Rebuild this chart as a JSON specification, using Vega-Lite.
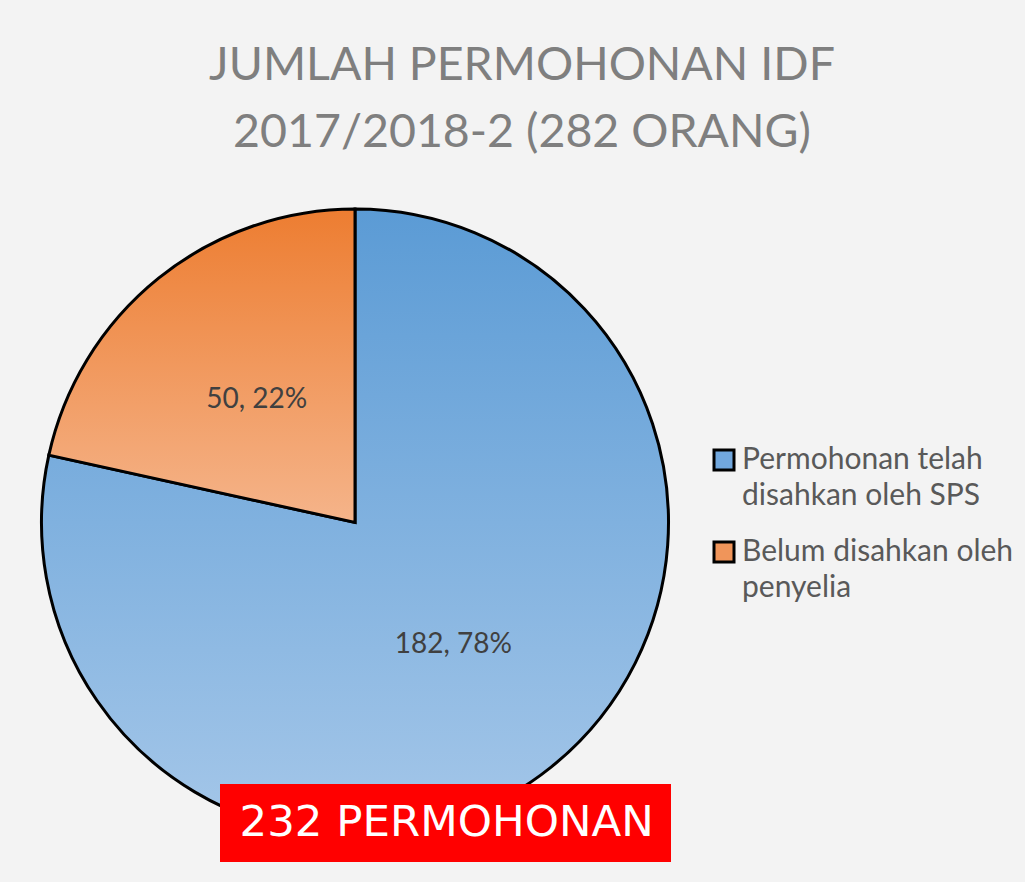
{
  "$schema": "https://vega.github.io/schema/vega-lite/v6.json",
  "width": 628,
  "height": 627,
  "autosize": {"type": "none"},
  "padding": {"left": 41, "top": 209, "right": 356, "bottom": 46},
  "background": "#F3F3F3",
  "title": {
    "text": ["JUMLAH PERMOHONAN IDF", "2017/2018-2 (282 ORANG)"],
    "anchor": "middle",
    "frame": "group",
    "dx": 167,
    "offset": 47,
    "font": "Lato",
    "fontSize": 46.5,
    "fontWeight": "normal",
    "color": "#7F7F7F",
    "lineHeight": 67
  },
  "data": {
    "values": [
      {"category": "Permohonan telah disahkan oleh SPS", "value": 182, "label": "182, 78%", "note": "232 PERMOHONAN"},
      {"category": "Belum disahkan oleh penyelia", "value": 50, "label": "50, 22%", "note": "232 PERMOHONAN"}
    ]
  },
  "layer": [
    {
      "mark": {"type": "arc", "stroke": "#000000", "strokeWidth": 3},
      "encoding": {
        "theta": {"field": "value", "type": "quantitative", "stack": true},
        "detail": {"field": "category"},
        "order": {"field": "category", "sort": "descending"},
        "fill": {
          "condition": {
            "test": "datum.category === 'Belum disahkan oleh penyelia'",
            "value": {
              "gradient": "linear", "x1": 0, "y1": 0, "x2": 0, "y2": 1,
              "stops": [{"offset": 0, "color": "#ED7D31"}, {"offset": 1, "color": "#F5B48A"}]
            }
          },
          "value": {
            "gradient": "linear", "x1": 0, "y1": 0, "x2": 0, "y2": 1,
            "stops": [{"offset": 0, "color": "#5B9BD5"}, {"offset": 1, "color": "#A5C7E9"}]
          }
        }
      }
    },
    {
      "mark": {"type": "text", "radius": 157, "font": "Lato", "fontSize": 28, "color": "#404040"},
      "encoding": {
        "theta": {"field": "value", "type": "quantitative", "stack": true},
        "detail": {"field": "category"},
        "order": {"field": "category", "sort": "descending"},
        "text": {"field": "label"}
      }
    },
    {
      "mark": {"type": "square", "opacity": 0, "stroke": "#000000"},
      "encoding": {
        "color": {
          "field": "category",
          "type": "nominal",
          "scale": {
            "domain": ["Permohonan telah disahkan oleh SPS", "Belum disahkan oleh penyelia"],
            "range": ["#71A7DD", "#F0955A"]
          },
          "legend": {
            "title": null,
            "orient": "none",
            "legendX": 668,
            "legendY": 236,
            "symbolType": "square",
            "symbolSize": 400,
            "symbolStrokeColor": "#000000",
            "symbolStrokeWidth": 3,
            "symbolOpacity": 1,
            "labelFont": "Lato",
            "labelFontSize": 30,
            "labelColor": "#595959",
            "labelOffset": 3,
            "labelLimit": 0,
            "rowPadding": 25,
            "labelExpr": "datum.label === 'Permohonan telah disahkan oleh SPS' ? ['Permohonan telah', 'disahkan oleh SPS'] : ['Belum disahkan oleh', 'penyelia']",
            "encode": {"labels": {"update": {"lineHeight": {"value": 36}}}}
          }
        }
      }
    },
    {
      "mark": {"type": "point", "opacity": 0},
      "encoding": {
        "shape": {
          "field": "note",
          "type": "nominal",
          "legend": {
            "title": null,
            "orient": "none",
            "legendX": 179,
            "legendY": 575,
            "fillColor": "#FF0000",
            "padding": 17,
            "symbolSize": 0,
            "symbolStrokeWidth": 0,
            "symbolOpacity": 0,
            "labelOffset": -41,
            "labelFont": "DejaVu Sans",
            "labelFontSize": 43.5,
            "labelColor": "#FFFFFF",
            "labelLimit": 0
          }
        }
      }
    }
  ],
  "config": {"view": {"stroke": null}}
}
